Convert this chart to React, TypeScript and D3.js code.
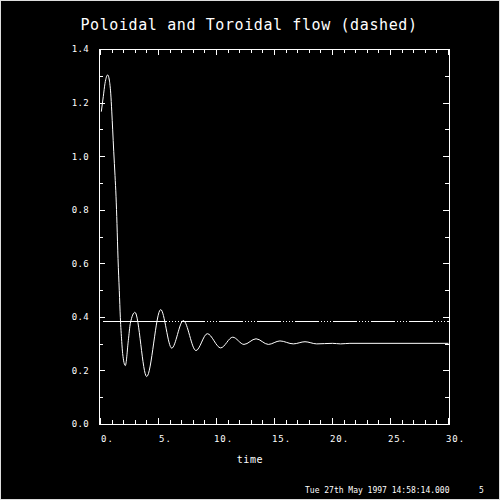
import React, { useEffect, useRef } from "react";
import * as d3 from "d3";

// poloidal flow (time, value)
const polTime = [
   0.07, 0.24, 0.39, 0.62, 0.76, 0.88, 0.97, 1.05, 1.14, 1.25, 1.34, 1.42, 1.51, 1.62,
   1.71, 1.83, 1.91, 2.14, 2.4, 2.57, 2.97, 3.98, 5.19, 6.14, 7.14, 8.23, 9.21, 10.36,
   11.4, 12.37, 13.41, 14.47, 15.47, 16.62, 17.63, 18.64, 20.0, 20.7, 21.5, 30.0,
];
const polValue = [
   1.168, 1.224, 1.274, 1.305, 1.286, 1.237, 1.17, 1.1, 1.02, 0.93, 0.85, 0.75, 0.62,
   0.5, 0.4, 0.31, 0.265, 0.22, 0.314, 0.377, 0.419, 0.179, 0.429, 0.285, 0.388, 0.276,
   0.339, 0.286, 0.326, 0.299, 0.32, 0.299, 0.312, 0.301, 0.309, 0.301, 0.303, 0.301,
   0.303, 0.303,
];

// toroidal flow (dashed), flat
const torTime = [0.25, 30.0];
const torValue = [0.3845, 0.3845];

const xTicks = [0, 5, 10, 15, 20, 25, 30];
const xLabels = ["0.", "5.", "10.", "15.", "20.", "25.", "30."];
const yTicks = [0, 0.2, 0.4, 0.6, 0.8, 1.0, 1.2, 1.4];
const yLabels = ["0.0", "0.2", "0.4", "0.6", "0.8", "1.0", "1.2", "1.4"];

const title = "Poloidal and Toroidal flow (dashed)";
const xTitle = "time";
const stamp = "Tue 27th May 1997 14:58:14.000";
const frameNo = "5";

const FONT = "'DejaVu Sans Mono', 'Liberation Mono', monospace";
// long solid start, then dotted runs between solid dashes
const DASH = [64, ...Array(9).fill([2, 1, 2, 1, 2, 1, 2, 1, 2, 24]).flat()].join(" ");

export default function App() {
   const ref = useRef<SVGSVGElement>(null);

   useEffect(() => {
      const svg = d3.select(ref.current);
      svg.selectAll("*").remove();

      const x = d3.scaleLinear().domain([0, 30]).range([100, 448]);
      const y = d3.scaleLinear().domain([0, 1.4]).range([424, 49]);

      svg.append("rect")
         .attr("width", 500)
         .attr("height", 500)
         .attr("fill", "black");
      svg.append("rect")
         .attr("x", 0.5)
         .attr("y", 0.5)
         .attr("width", 499)
         .attr("height", 499)
         .attr("fill", "none")
         .attr("stroke", "#ddd");

      // frame
      svg.append("rect")
         .attr("x", 99.5)
         .attr("y", 49.5)
         .attr("width", 350)
         .attr("height", 375)
         .attr("fill", "none")
         .attr("stroke", "white")
         .attr("shape-rendering", "crispEdges");

      const style = (g: any) => {
         g.select(".domain").remove();
         g.selectAll("line").attr("stroke", "white").attr("shape-rendering", "crispEdges");
         g.attr("font-family", FONT).attr("font-size", 9);
         g.selectAll("text").attr("fill", "white");
      };

      const minorX = d3.range(0, 31, 1);
      const minorY = d3.range(0, 15).map((i) => i / 10);

      // minor ticks on all sides
      svg.append("g").attr("transform", "translate(0,424)")
         .call(d3.axisBottom(x).tickValues(minorX).tickSize(-4).tickFormat(() => ""))
         .call(style);
      svg.append("g").attr("transform", "translate(0,49)")
         .call(d3.axisTop(x).tickValues(minorX).tickSize(-4).tickFormat(() => ""))
         .call(style);
      svg.append("g").attr("transform", "translate(99,0)")
         .call(d3.axisLeft(y).tickValues(minorY).tickSize(-4).tickFormat(() => ""))
         .call(style);
      svg.append("g").attr("transform", "translate(449,0)")
         .call(d3.axisRight(y).tickValues(minorY).tickSize(-4).tickFormat(() => ""))
         .call(style);

      // major ticks + labels
      svg.append("g").attr("transform", "translate(0,424)")
         .call(d3.axisBottom(x).tickValues(xTicks).tickSize(-6).tickPadding(12)
            .tickFormat((d, i) => xLabels[i]))
         .call(style)
         .call((g) => g.selectAll("text").attr("dx", 7).attr("letter-spacing", 1));
      svg.append("g").attr("transform", "translate(0,49)")
         .call(d3.axisTop(x).tickValues(xTicks).tickSize(-6).tickFormat(() => ""))
         .call(style);
      svg.append("g").attr("transform", "translate(99,0)")
         .call(d3.axisLeft(y).tickValues(yTicks).tickSize(-6).tickPadding(10)
            .tickFormat((d, i) => yLabels[i]))
         .call(style)
         .call((g) => g.selectAll("text").attr("letter-spacing", 0.3));
      svg.append("g").attr("transform", "translate(449,0)")
         .call(d3.axisRight(y).tickValues(yTicks).tickSize(-6).tickFormat(() => ""))
         .call(style);

      // curves
      const line = d3
         .line<[number, number]>()
         .x((d) => x(d[0]) + 0.5)
         .y((d) => y(d[1]) + 0.5)
         .curve(d3.curveMonotoneX);

      svg.append("path")
         .datum(polTime.map((t, i) => [t, polValue[i]] as [number, number]))
         .attr("fill", "none")
         .attr("stroke", "white")
         .attr("stroke-width", 1)
         .attr("d", line);

      svg.append("path")
         .datum(torTime.map((t, i) => [t, torValue[i]] as [number, number]))
         .attr("fill", "none")
         .attr("stroke", "white")
         .attr("stroke-width", 1)
         .attr("stroke-dasharray", DASH)
         .attr("shape-rendering", "crispEdges")
         .attr("d", line);

      // texts
      svg.append("text")
         .attr("x", 249)
         .attr("y", 30)
         .attr("text-anchor", "middle")
         .attr("font-family", FONT)
         .attr("font-size", 15)
         .attr("letter-spacing", 0.6)
         .attr("fill", "white")
         .text(title);

      svg.append("text")
         .attr("x", 250)
         .attr("y", 463)
         .attr("text-anchor", "middle")
         .attr("font-family", FONT)
         .attr("font-size", 10)
         .attr("letter-spacing", 0.6)
         .attr("fill", "white")
         .text(xTitle);

      svg.append("text")
         .attr("x", 305)
         .attr("y", 492.5)
         .attr("font-family", FONT)
         .attr("font-size", 8)
         .attr("fill", "white")
         .text(stamp);

      svg.append("text")
         .attr("x", 479)
         .attr("y", 492.5)
         .attr("font-family", FONT)
         .attr("font-size", 8)
         .attr("fill", "white")
         .text(frameNo);
   }, []);

   return (
      <svg
         ref={ref}
         width={500}
         height={500}
         style={{ position: "absolute", left: 0, top: 0, display: "block" }}
      />
   );
}
